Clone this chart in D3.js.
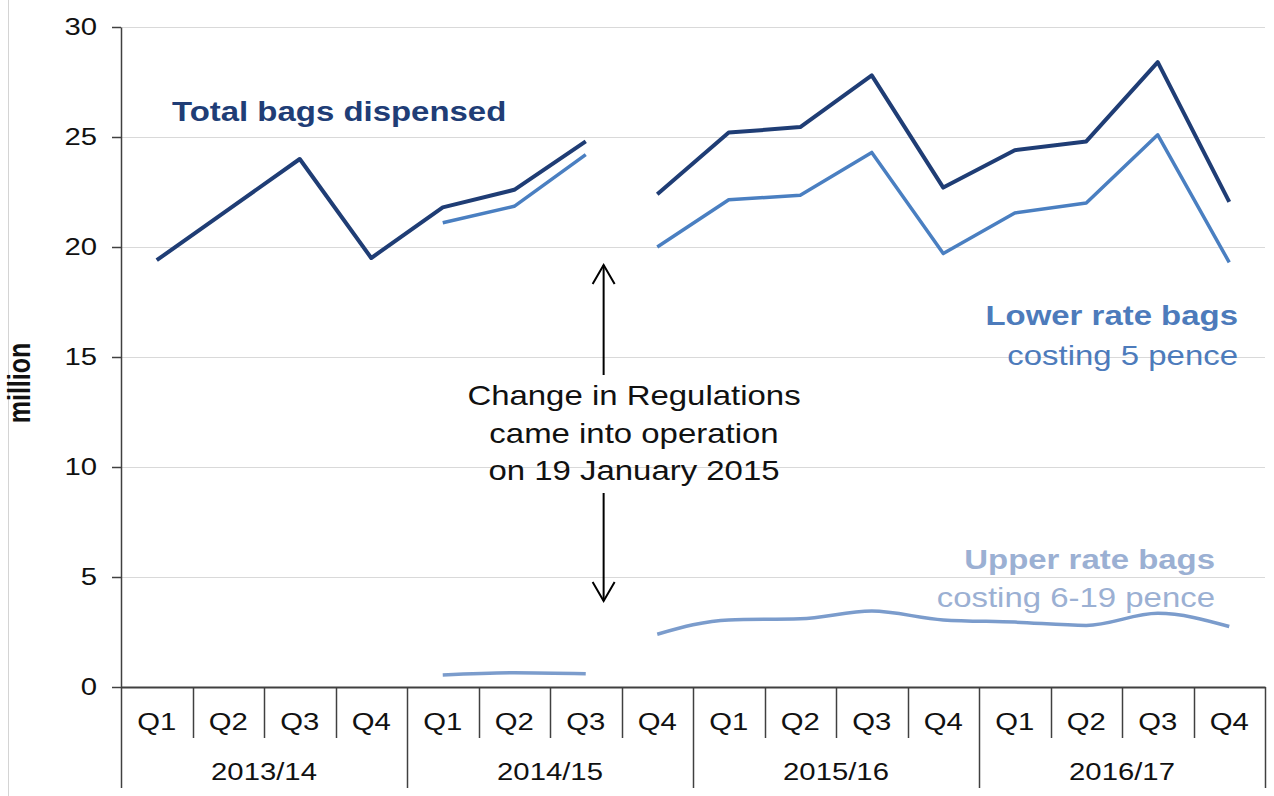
<!DOCTYPE html>
<html>
<head>
<meta charset="utf-8">
<script src="https://cdn.jsdelivr.net/npm/d3@7"></script>
<style>
    body { margin: 0; background: #fff; }
    svg { display: block; font-family: "Liberation Sans", Arial, sans-serif; }
</style>
</head>
<body>
<svg></svg>
<script>
        // Data (million bags per quarter)
        const years = ["2013/14", "2014/15", "2015/16", "2016/17"];
        const quarters = ["Q1", "Q2", "Q3", "Q4"];
        const totalBags = [19.4, 21.7, 24.0, 19.5, 21.8, 22.6, 24.8, 22.4, 25.2, 25.45, 27.8, 22.7, 24.4, 24.8, 28.4, 22.05];
        const lowerRate = [null, null, null, null, 21.1, 21.85, 24.2, 20.0, 22.15, 22.35, 24.3, 19.7, 21.55, 22.0, 25.1, 19.3];
        const upperRate = [null, null, null, null, 0.55, 0.65, 0.6, 2.4, 3.05, 3.1, 3.45, 3.05, 2.95, 2.8, 3.35, 2.75];
        const yTicks = [0, 5, 10, 15, 20, 25, 30];
        const lastBeforeChange = 6; // Q3 2014/15, lines break after this point

        // Chart dimensions
        const width = 1274;
        const height = 796;
        const margin = { top: 27, right: 9, bottom: 109, left: 121 };
        const sx = 1.22; // the source chart is a bit wider than the font

        const colors = { total: "#1f3d75", lower: "#4a7fc1", upper: "#7b9ccc" };

        const svg = d3.select("svg")
            .attr("width", width)
            .attr("height", height);

        // stretch text horizontally around its own anchor
        function stretch(sel) {
            sel.each(function () {
                const t = d3.select(this);
                const x = +t.attr("x") || 0;
                const y = +t.attr("y") || 0;
                t.attr("x", 0).attr("y", 0)
                    .attr("transform", `translate(${x},${y}) scale(${sx},1)`);
            });
        }

        const periods = years.flatMap(yr => quarters.map(q => yr + " " + q));

        const x = d3.scaleBand()
            .domain(periods)
            .range([margin.left, width - margin.right])
            .padding(0);

        const y = d3.scaleLinear()
            .domain([0, 30])
            .range([height - margin.bottom, margin.top]);

        // left frame edge
        svg.append("line")
            .attr("x1", 8.5).attr("x2", 8.5)
            .attr("y1", 0).attr("y2", height)
            .attr("stroke", "#d4d4d4");

        // Gridlines
        svg.append("g")
            .selectAll("line")
            .data(yTicks.filter(d => d > 0))
            .join("line")
            .attr("x1", margin.left)
            .attr("x2", width - margin.right)
            .attr("y1", d => Math.round(y(d)) + 0.5)
            .attr("y2", d => Math.round(y(d)) + 0.5)
            .attr("stroke", "#d9d9d9");

        // Y axis
        const gy = svg.append("g")
            .attr("transform", `translate(${margin.left},0)`)
            .call(d3.axisLeft(y).tickValues(yTicks).tickSize(9).tickPadding(15).tickSizeOuter(0))
            .style("font-size", "24px")
            .style("font-family", "\"Liberation Sans\", Arial, sans-serif");
        gy.select(".domain").attr("stroke", "#404040").attr("stroke-width", 1.5);
        gy.selectAll(".tick line").attr("stroke", "#404040").attr("stroke-width", 1.5);
        gy.selectAll(".tick text").attr("fill", "#111").call(stretch);

        // Y axis label
        svg.append("text")
            .attr("transform", `translate(30,383) scale(${sx},1) rotate(-90)`)
            .attr("text-anchor", "middle")
            .style("font-size", "25px")
            .style("font-weight", "bold")
            .attr("fill", "#111")
            .text("million");

        // X axis: quarters
        const x0 = height - margin.bottom;
        const gx = svg.append("g")
            .attr("transform", `translate(0,${x0})`)
            .call(d3.axisBottom(x).tickSize(0).tickSizeOuter(0).tickFormat(d => d.split(" ")[1]))
            .style("font-size", "24px")
            .style("font-family", "\"Liberation Sans\", Arial, sans-serif");
        gx.select(".domain").attr("stroke", "#404040").attr("stroke-width", 2);
        gx.selectAll(".tick text")
            .attr("y", 43).attr("dy", 0)
            .attr("fill", "#111")
            .call(stretch);

        // category separators, year ones run down further
        const edges = d3.range(periods.length + 1);
        svg.append("g")
            .selectAll("line")
            .data(edges)
            .join("line")
            .attr("x1", i => Math.round(margin.left + i * x.step()) + 0.5)
            .attr("x2", i => Math.round(margin.left + i * x.step()) + 0.5)
            .attr("y1", x0)
            .attr("y2", i => i % 4 === 0 ? x0 + 101 : x0 + 51)
            .attr("stroke", "#404040")
            .attr("stroke-width", 1.5);

        // Year labels
        svg.append("g")
            .selectAll("text")
            .data(years)
            .join("text")
            .attr("x", d => x(d + " Q1") + x.step() * 2)
            .attr("y", x0 + 93)
            .attr("text-anchor", "middle")
            .style("font-size", "24px")
            .attr("fill", "#111")
            .text(d => d)
            .call(stretch);

        // Lines, split where the regulations changed
        const line = d3.line()
            .x(d => x(d.key) + x.bandwidth() / 2)
            .y(d => y(d.value));

        function segments(values) {
            const pts = periods.map((p, i) => ({ key: p, value: values[i], i }));
            return [
                pts.filter(d => d.i <= lastBeforeChange && d.value != null),
                pts.filter(d => d.i > lastBeforeChange && d.value != null)
            ];
        }

        const series = [
            { name: "upper", values: upperRate, width: 3.5, curve: d3.curveMonotoneX },
            { name: "lower", values: lowerRate, width: 3.5, curve: d3.curveLinear },
            { name: "total", values: totalBags, width: 4, curve: d3.curveLinear }
        ];

        series.forEach(s => {
            svg.append("g")
                .selectAll("path")
                .data(segments(s.values))
                .join("path")
                .attr("fill", "none")
                .attr("stroke", colors[s.name])
                .attr("stroke-width", s.width)
                .attr("stroke-linejoin", "round")
                .attr("d", d => line.curve(s.curve)(d));
        });

        // Series labels
        const labels = [
            { text: "Total bags dispensed", x: 172, y: 121, anchor: "start", bold: true, fill: "#203d76" },
            { text: "Lower rate bags", x: 1238, y: 325, anchor: "end", bold: true, fill: "#4d7bbb" },
            { text: "costing 5 pence", x: 1238, y: 365, anchor: "end", bold: false, fill: "#4d7bbb" },
            { text: "Upper rate bags", x: 1215, y: 569, anchor: "end", bold: true, fill: "#9bb0d3" },
            { text: "costing 6-19 pence", x: 1215, y: 607, anchor: "end", bold: false, fill: "#9bb0d3" }
        ];
        svg.append("g")
            .selectAll("text")
            .data(labels)
            .join("text")
            .attr("x", d => d.x)
            .attr("y", d => d.y)
            .attr("text-anchor", d => d.anchor)
            .style("font-size", "27px")
            .style("font-weight", d => d.bold ? "bold" : "normal")
            .attr("fill", d => d.fill)
            .text(d => d.text)
            .call(stretch);

        // Regulation change annotation
        const ax = x(periods[lastBeforeChange]) + x.bandwidth() * 0.75;
        const arrowTop = 265, arrowBottom = 601;
        const gapTop = 375, gapBottom = 493;
        const ann = svg.append("g")
            .attr("stroke", "#000")
            .attr("stroke-width", 2)
            .attr("fill", "none");
        ann.append("line").attr("x1", ax).attr("x2", ax).attr("y1", arrowTop).attr("y2", gapTop);
        ann.append("line").attr("x1", ax).attr("x2", ax).attr("y1", gapBottom).attr("y2", arrowBottom);
        ann.append("polyline")
            .attr("points", `${ax - 11},${arrowTop + 19} ${ax},${arrowTop} ${ax + 11},${arrowTop + 19}`);
        ann.append("polyline")
            .attr("points", `${ax - 11},${arrowBottom - 19} ${ax},${arrowBottom} ${ax + 11},${arrowBottom - 19}`);

        svg.append("g")
            .selectAll("text")
            .data(["Change in Regulations", "came into operation", "on 19 January 2015"])
            .join("text")
            .attr("x", 634)
            .attr("y", (d, i) => 405 + i * 37.5)
            .attr("text-anchor", "middle")
            .style("font-size", "27px")
            .attr("fill", "#111")
            .text(d => d)
            .call(stretch);
</script>
</body>
</html>
